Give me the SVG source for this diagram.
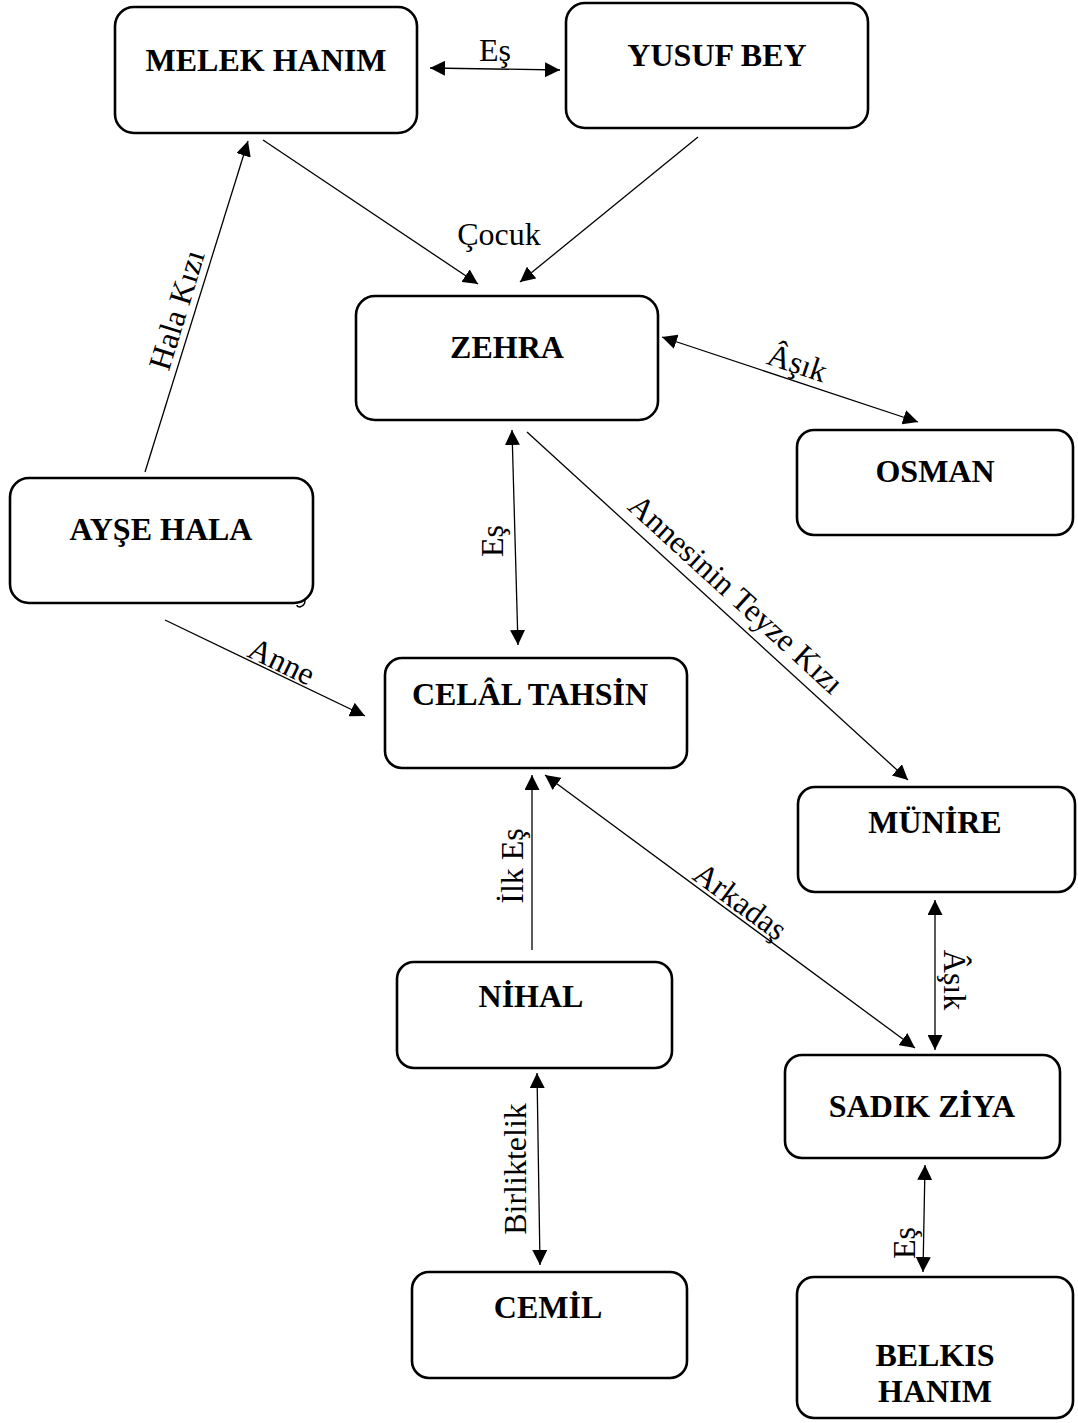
<svg xmlns="http://www.w3.org/2000/svg" width="1078" height="1423" viewBox="0 0 1078 1423">
<defs>
<marker id="ah" markerUnits="userSpaceOnUse" markerWidth="15" markerHeight="15" refX="15" refY="7.5" orient="auto-start-reverse" viewBox="0 0 15 15">
<path d="M0,0 L15,7.5 L0,15 z" fill="#000"/>
</marker>
<style>
.box{fill:#fff;stroke:#000;stroke-width:2.6}
.name{font-family:"Liberation Serif","Times New Roman",serif;font-weight:bold;font-size:32px;text-anchor:middle;fill:#000}
.lbl{font-family:"Liberation Serif","Times New Roman",serif;font-size:32px;text-anchor:middle;fill:#000}
.ln{stroke:#000;stroke-width:1.3;fill:none}
.one{marker-end:url(#ah)}
.two{marker-start:url(#ah);marker-end:url(#ah)}
</style>
</defs>
<rect width="1078" height="1423" fill="#fff"/>
<g id="connectors">
<line class="ln two" x1="430" y1="68" x2="560" y2="70"/>
<line class="ln one" x1="263" y1="140" x2="478" y2="284"/>
<line class="ln one" x1="698" y1="137" x2="520" y2="282"/>
<line class="ln two" x1="662" y1="337" x2="918" y2="422"/>
<line class="ln one" x1="145" y1="472" x2="248" y2="141"/>
<line class="ln two" x1="512" y1="430" x2="518" y2="645"/>
<line class="ln one" x1="527" y1="432" x2="908" y2="780"/>
<line class="ln one" x1="165" y1="620" x2="365" y2="716"/>
<line class="ln one" x1="532" y1="950" x2="532" y2="775"/>
<line class="ln two" x1="545" y1="775" x2="915" y2="1048"/>
<line class="ln two" x1="935" y1="900" x2="935" y2="1050"/>
<line class="ln two" x1="537" y1="1073" x2="540" y2="1265"/>
<line class="ln two" x1="925" y1="1165" x2="923" y2="1272"/>
<text class="lbl" x="495" y="61">Eş</text>
<text class="lbl" x="499" y="245">Çocuk</text>
<text class="lbl" transform="translate(794,373) rotate(18.4)">Âşık</text>
<text class="lbl" transform="translate(187,313) rotate(-72.9)">Hala Kızı</text>
<text class="lbl" transform="translate(503,541) rotate(-90)">Eş</text>
<text class="lbl" transform="translate(729,602) rotate(42.4)">Annesinin Teyze Kızı</text>
<text class="lbl" transform="translate(277,671) rotate(25.6)">Anne</text>
<text class="lbl" transform="translate(523,866) rotate(-90)">İlk Eş</text>
<text class="lbl" transform="translate(734,910) rotate(36.4)">Arkadaş</text>
<text class="lbl" transform="translate(944,980) rotate(90)">Âşık</text>
<text class="lbl" transform="translate(526,1169) rotate(-90)">Birliktelik</text>
<text class="lbl" transform="translate(915,1243) rotate(-90)">Eş</text>
<path d="M304,597 Q307,605 300,607 Q297,607 297,605" fill="none" stroke="#000" stroke-width="1.5"/>
</g>
<g id="melek"><rect class="box" x="115" y="7" width="302" height="126" rx="19"/><text class="name" x="266" y="71">MELEK HANIM</text></g>
<g id="yusuf"><rect class="box" x="566" y="3" width="302" height="125" rx="19"/><text class="name" x="717" y="66">YUSUF BEY</text></g>
<g id="zehra"><rect class="box" x="356" y="296" width="302" height="124" rx="19"/><text class="name" x="507" y="358">ZEHRA</text></g>
<g id="osman"><rect class="box" x="797" y="430" width="276" height="105" rx="17"/><text class="name" x="935" y="482">OSMAN</text></g>
<g id="ayse"><rect class="box" x="10" y="478" width="303" height="125" rx="19"/><text class="name" x="161" y="540">AYŞE HALA</text></g>
<g id="celal"><rect class="box" x="385" y="658" width="302" height="110" rx="17"/><text class="name" x="530" y="705">CELÂL TAHSİN</text></g>
<g id="munire"><rect class="box" x="798" y="787" width="277" height="105" rx="17"/><text class="name" x="935" y="833">MÜNİRE</text></g>
<g id="nihal"><rect class="box" x="397" y="962" width="275" height="106" rx="17"/><text class="name" x="531" y="1007">NİHAL</text></g>
<g id="sadik"><rect class="box" x="785" y="1055" width="275" height="103" rx="17"/><text class="name" x="922" y="1117">SADIK ZİYA</text></g>
<g id="cemil"><rect class="box" x="412" y="1272" width="275" height="106" rx="17"/><text class="name" x="548" y="1318">CEMİL</text></g>
<g id="belkis"><rect class="box" x="797" y="1277" width="276" height="141" rx="17"/><text class="name" x="935" y="1366">BELKIS</text><text class="name" x="935" y="1402">HANIM</text></g>
</svg>
